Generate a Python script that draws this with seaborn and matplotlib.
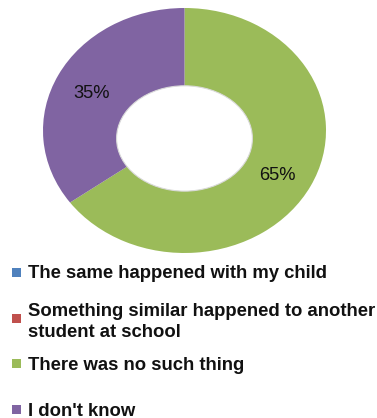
import matplotlib
matplotlib.use("Agg")
import matplotlib.pyplot as plt
import seaborn as sns
from matplotlib.patches import Rectangle, Ellipse

sns.set_theme(style="white")
plt.rcParams['font.family'] = ['Liberation Sans', 'DejaVu Sans']

categories = [
    "The same happened with my child",
    "Something similar happened to another\nstudent at school",
    "There was no such thing",
    "I don't know",
]
values = [0, 0, 65, 35]
colors = ["#4F81BD", "#C0504D", "#9BBB59", "#8064A2"]

W, H = 377, 418
fig = plt.figure(figsize=(W / 100, H / 100), dpi=100)

# donut axes (pixel box x 43-326, y 8-253 from top)
ax = fig.add_axes([43 / W, 1 - 253 / H, 283 / W, 245 / H])
wedges, texts, autotexts = ax.pie(
    values,
    colors=colors,
    startangle=90,
    counterclock=False,
    radius=1,
    wedgeprops=dict(edgecolor="none"),
    autopct=lambda p: f"{p:.0f}%" if p > 0.5 else "",
    pctdistance=0.74,
    textprops=dict(fontsize=13.2, color="#111111"),
)
# labels sit slightly lower, following the perspective hole
for t in autotexts:
    t.set_y(t.get_position()[1] - 0.035)
ax.set_aspect("auto")
ax.set_xlim(-1, 1)
ax.set_ylim(-1, 1)
ax.axis("off")
# donut hole (slightly low, as in the perspective-rendered original)
ax.add_patch(Ellipse((0.0, -0.065), 0.96, 0.86, facecolor="white",
                     edgecolor="#d9d9d9", linewidth=0.8, zorder=5))

# legend rows (Excel style fixed slots)
row_y = [272, 318, 363, 409]
for cat, col, y in zip(categories, colors, row_y):
    fig.add_artist(Rectangle((12 / W, 1 - (y + 4.5) / H), 9 / W, 9 / H,
                             transform=fig.transFigure, facecolor=col,
                             edgecolor="none"))
    fig.text(28 / W, 1 - y / H, cat, fontsize=13.3, fontweight="bold",
             color="#111111", va="center_baseline", ha="left",
             linespacing=1.3)

fig.savefig("out.png", dpi=100)
